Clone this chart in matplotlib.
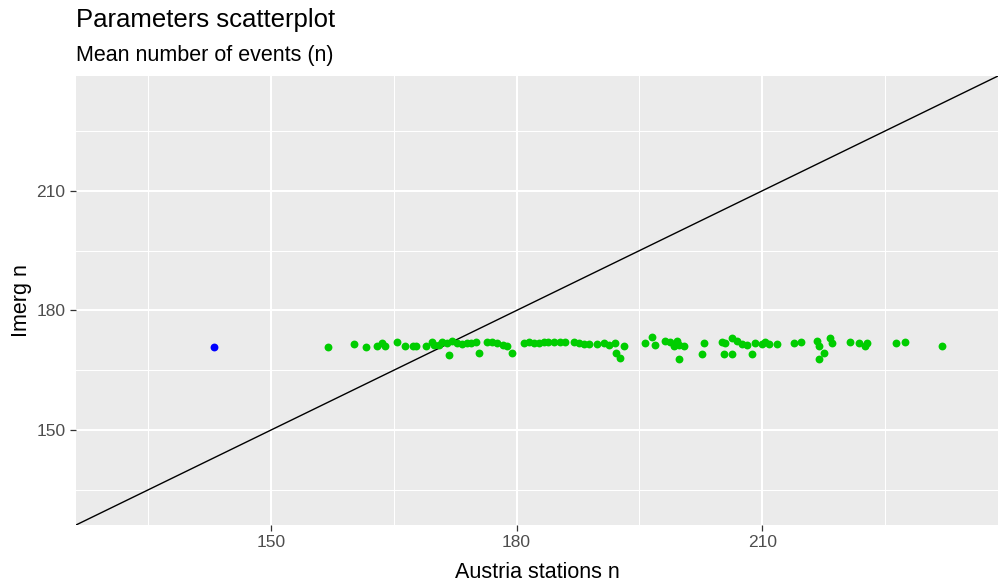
import matplotlib
matplotlib.use("Agg")
import matplotlib.pyplot as plt

plt.rcParams["font.family"] = ["Liberation Sans", "DejaVu Sans"]

# Mean number of events per station: Austria stations (x) vs IMERG (y)
austria = [157.0, 160.1, 161.6, 162.9, 163.6, 163.9, 165.4, 166.4, 167.3, 167.7,
           169.0, 169.7, 169.9, 170.5, 170.9, 171.5, 171.7, 172.1, 172.7, 173.3,
           173.9, 174.5, 175.0, 175.4, 176.4, 177.0, 177.6, 178.4, 178.8, 179.4,
           180.9, 181.5, 182.1, 182.7, 183.3, 183.9, 184.6, 185.3, 185.9, 187.0,
           187.6, 188.2, 188.9, 189.8, 190.7, 191.3, 192.0, 192.2, 192.6, 193.1,
           195.7, 196.5, 196.9, 198.1, 198.7, 199.6, 199.2, 199.9, 200.5, 199.8,
           202.9, 202.7, 205.1, 205.4, 205.3, 206.3, 206.3, 206.9, 207.5, 208.1,
           208.7, 209.1, 210.0, 210.3, 210.8, 211.8, 213.9, 214.8, 216.7, 217.0,
           217.5, 216.9, 218.3, 218.5, 220.7, 221.8, 222.5, 222.8, 226.4, 227.4,
           231.9]
imerg = [170.8, 171.6, 170.8, 171.1, 171.8, 171.1, 172.1, 171.1, 171.1, 171.1,
         171.1, 172.1, 171.3, 171.3, 172.1, 171.8, 168.8, 172.3, 171.8, 171.6,
         171.8, 171.8, 172.1, 169.3, 172.1, 172.1, 171.8, 171.3, 171.1, 169.3,
         171.8, 172.1, 171.8, 171.8, 172.1, 172.1, 172.1, 172.1, 172.1, 172.1,
         171.8, 171.6, 171.6, 171.6, 171.8, 171.3, 171.8, 169.3, 168.0, 171.1,
         171.8, 173.3, 171.3, 172.3, 172.1, 172.3, 171.1, 171.3, 171.1, 167.8,
         171.8, 169.0, 172.1, 171.8, 169.0, 169.0, 173.1, 172.3, 171.6, 171.3,
         169.0, 171.8, 171.6, 172.1, 171.6, 171.6, 171.8, 172.1, 172.3, 171.1,
         169.3, 167.8, 173.1, 171.8, 172.1, 171.8, 171.1, 171.8, 171.8, 172.1,
         171.1]

# Highlighted station
highlight_x = [143.0]
highlight_y = [170.9]

major_ticks = [150, 180, 210]
minor_ticks = [135, 165, 195, 225]
# Shared limits on both axes so the identity line runs corner to corner
limits = (126.2, 238.8)

W, H = 998, 587
fig = plt.figure(figsize=(W / 100, H / 100), dpi=100)
fig.patch.set_facecolor("white")
ax = fig.add_axes([76 / W, 1 - 525 / H, 922 / W, 449 / H])
ax.set_facecolor("#EBEBEB")

ax.set_xlim(*limits)
ax.set_ylim(*limits)
ax.set_xticks(major_ticks)
ax.set_yticks(major_ticks)
ax.set_xticks(minor_ticks, minor=True)
ax.set_yticks(minor_ticks, minor=True)
ax.grid(which="major", color="white", linewidth=1.45)
ax.grid(which="minor", color="white", linewidth=0.75)
ax.set_axisbelow(True)
for s in ax.spines.values():
    s.set_visible(False)

ax.tick_params(which="major", length=4.0, width=0.9, color="#333333",
               labelcolor="#4D4D4D", labelsize=12.5, pad=3.5)
ax.tick_params(which="minor", length=0)

# Identity line y = x
ax.axline((150, 150), slope=1, color="black", linewidth=1.0, zorder=2)

ax.scatter(austria, imerg, s=32, color="#00CD00", linewidths=0, zorder=3)
ax.scatter(highlight_x, highlight_y, s=32, color="#0000FF", linewidths=0, zorder=3)

fig.text((76 + 998) / 2 / W, 1 - 578 / H, "Austria stations n", fontsize=15.5,
         ha="center", va="baseline", color="black")
fig.text(21 / W, 1 - 301 / H, "Imerg n", fontsize=15.5, rotation=90,
         ha="center", va="center", color="black")

fig.text(76 / W, 1 - 27 / H, "Parameters scatterplot", fontsize=18.5,
         ha="left", va="baseline", color="black")
fig.text(76 / W, 1 - 61 / H, "Mean number of events (n)", fontsize=15.5,
         ha="left", va="baseline", color="black")

fig.savefig("out.png", dpi=100)
